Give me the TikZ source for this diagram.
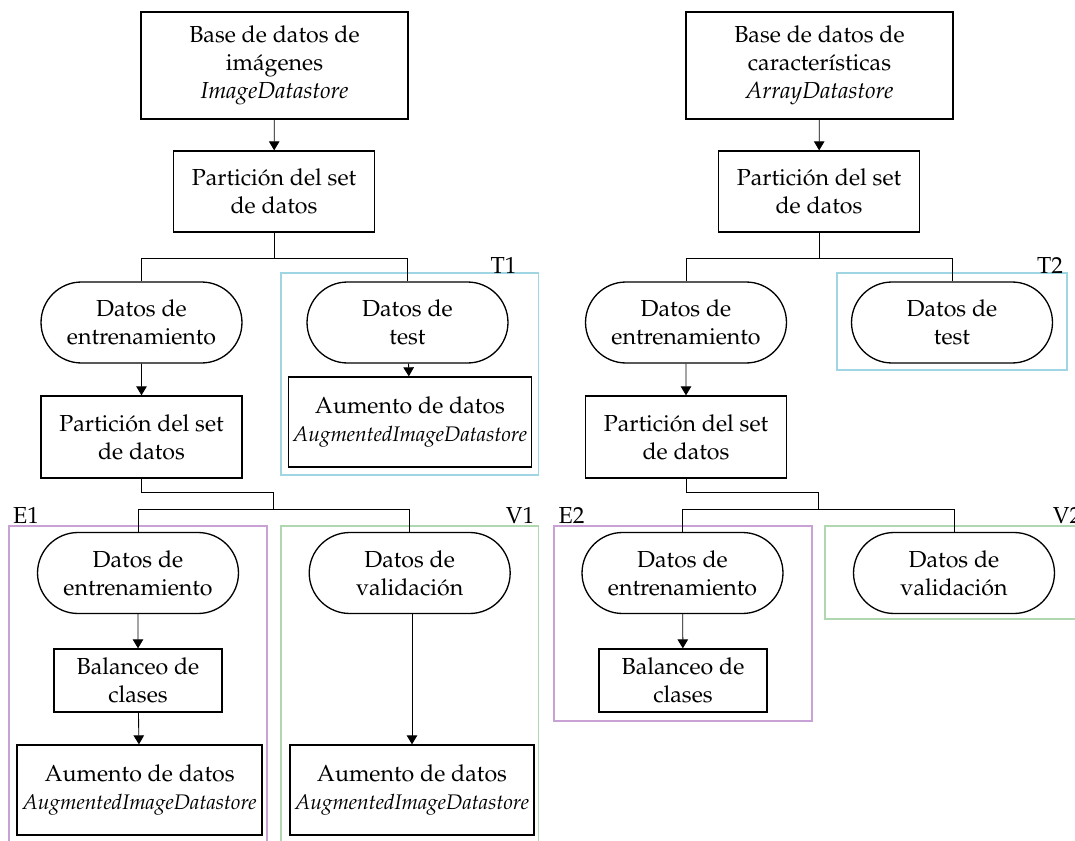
\documentclass[tikz,border=0pt]{standalone}
\IfFileExists{mathpazo.sty}{%
  \usepackage[T1]{fontenc}\usepackage{mathpazo}}{%
  \usepackage{fontspec}\setmainfont{Liberation Serif}}
\usetikzlibrary{shapes.misc,arrows.meta,calc}
\definecolor{grpT}{RGB}{160,214,228}
\definecolor{grpE}{RGB}{200,162,212}
\definecolor{grpV}{RGB}{176,216,176}
\newcommand{\dsname}[1]{{\fontsize{12}{15.9}\selectfont\textit{#1}}}
\begin{document}
\begin{tikzpicture}[x=0.02cm,y=-0.02cm,
  every node/.style={font=\fontsize{13.2}{15.9}\selectfont, align=center, inner sep=0pt},
  procbox/.style={draw, line width=0.75pt, rectangle},
  databox/.style={draw, line width=0.75pt, rounded rectangle, minimum width=4.02cm, minimum height=1.62cm},
  link/.style={line width=0.5pt},
  flow/.style={line width=0.5pt, -{Triangle[length=0.18cm,width=0.21cm]}},
  group/.style={line width=1.1pt}
]
\useasboundingbox (0,0) rectangle (1075,841);
\begin{scope}
\clip (0,0) rectangle (1075,841);

% group frames
\draw[group, grpT] (280.7,272.7) rectangle (538.5,475);
\draw[group, grpT] (837,272.7) rectangle (1066.7,370);
\draw[group, grpE] (8.6,525.7) rectangle (267,870);
\draw[group, grpV] (280.7,525.7) rectangle (538.5,870);
\draw[group, grpE] (553.7,525.7) rectangle (812,720.7);
\draw[group, grpV] (825,525.7) rectangle (1100,619);

\node (lT1) at (503.5,265) {T1};
\node (lT2) at (1050,265) {T2};
\node (lE1) at (26,515) {E1};
\node (lV1) at (520,515) {V1};
\node (lE2) at (571.5,515) {E2};
\node (lV2) at (1067,515) {V2};

% left branch: image data
\node[procbox, minimum width=5.34cm, minimum height=2.14cm] (imgdb) at (274.5,65.5)
  {Base de datos de\\ im\'agenes\\ \textit{ImageDatastore}};
\node[procbox, minimum width=4.02cm, minimum height=1.62cm] (split1) at (274,191.5)
  {Partici\'on del set\\ de datos};
\node[databox] (train1) at (141.5,322.5) {Datos de\\ entrenamiento};
\node[databox] (test1) at (407.5,322.5) {Datos de\\ test};
\node[procbox, minimum width=4.87cm, minimum height=1.8cm] (augT1) at (410,422)
  {Aumento de datos\\ \dsname{AugmentedImageDatastore}};
\node[procbox, minimum width=4.02cm, minimum height=1.64cm] (split2) at (141.5,437)
  {Partici\'on del set\\ de datos};
\node[databox] (trainE1) at (138,573) {Datos de\\ entrenamiento};
\node[databox] (valV1) at (409.7,573) {Datos de\\ validaci\'on};
\node[procbox, minimum width=3.36cm, minimum height=1.26cm] (balE1) at (138,680.5)
  {Balanceo de\\ clases};
\node[procbox, minimum width=4.9cm, minimum height=1.8cm] (augE1) at (139.6,790)
  {Aumento de datos\\ \dsname{AugmentedImageDatastore}};
\node[procbox, minimum width=4.88cm, minimum height=1.8cm] (augV1) at (412,790)
  {Aumento de datos\\ \dsname{AugmentedImageDatastore}};

\draw[flow] (imgdb) -- (split1);
\draw[link] (split1.south) -- ++(0,26) coordinate (j1);
\draw[link] (train1.north) |- (j1) -| (test1.north);
\draw[flow] (test1) -- (augT1);
\draw[flow] (train1) -- (split2);
\coordinate (m1a) at ($(trainE1.north)!0.5!(valV1.north)+(0,-39)$);
\coordinate (m1b) at ($(trainE1.north)!0.5!(valV1.north)+(0,-22)$);
\draw[link] (split2.south) |- (m1a) -- (m1b);
\draw[link] (trainE1.north) |- (m1b) -| (valV1.north);
\draw[flow] (trainE1) -- (balE1);
\draw[flow] (balE1) -- (augE1);
\draw[flow] (valV1.south -| augV1.north) -- (augV1.north);

% right branch: feature data
\node[procbox, minimum width=5.34cm, minimum height=2.14cm] (featdb) at (819.5,65.5)
  {Base de datos de\\ caracter\'{\i}sticas\\ \textit{ArrayDatastore}};
\node[procbox, minimum width=4.02cm, minimum height=1.62cm] (split3) at (819,191.5)
  {Partici\'on del set\\ de datos};
\node[databox] (train2) at (686,322.5) {Datos de\\ entrenamiento};
\node[databox] (test2) at (952,322.5) {Datos de\\ test};
\node[procbox, minimum width=4.02cm, minimum height=1.64cm] (split4) at (686,437)
  {Partici\'on del set\\ de datos};
\node[databox] (trainE2) at (682.5,573) {Datos de\\ entrenamiento};
\node[databox] (valV2) at (954,573) {Datos de\\ validaci\'on};
\node[procbox, minimum width=3.36cm, minimum height=1.26cm] (balE2) at (683,680.5)
  {Balanceo de\\ clases};

\draw[flow] (featdb) -- (split3);
\draw[link] (split3.south) -- ++(0,26) coordinate (j3);
\draw[link] (train2.north) |- (j3) -| (test2.north);
\draw[flow] (train2) -- (split4);
\coordinate (m2a) at ($(trainE2.north)!0.5!(valV2.north)+(0,-39)$);
\coordinate (m2b) at ($(trainE2.north)!0.5!(valV2.north)+(0,-22)$);
\draw[link] (split4.south) |- (m2a) -- (m2b);
\draw[link] (trainE2.north) |- (m2b) -| (valV2.north);
\draw[flow] (trainE2) -- (balE2);
\end{scope}
\end{tikzpicture}
\end{document}
